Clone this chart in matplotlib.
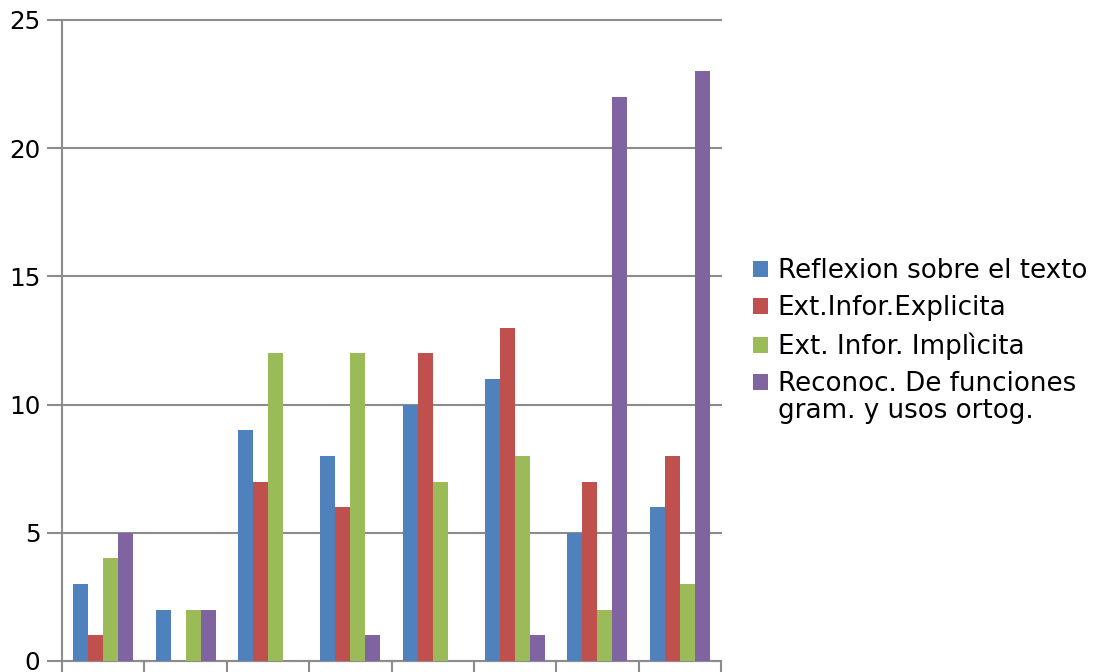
import matplotlib
matplotlib.use("Agg")
import matplotlib.pyplot as plt
import numpy as np

series_names = [
    "Reflexion sobre el texto",
    "Ext.Infor.Explicita",
    "Ext. Infor. Implìcita",
    "Reconoc. De funciones",
]
label_extra = "gram. y usos ortog."
reflexion = [3, 2, 9, 8, 10, 11, 5, 6]
explicita = [1, 0, 7, 6, 12, 13, 7, 8]
implicita = [4, 2, 12, 12, 7, 8, 2, 3]
reconoc = [5, 2, 0, 1, 0, 1, 22, 23]
y_ticks = [0, 5, 10, 15, 20, 25]

colors = ["#4F81BD", "#C0504D", "#9BBB59", "#8064A2"]
grid_c = "#8C8C8C"
fs = 18.8

fig = plt.figure(figsize=(10.94, 6.72), dpi=100)
ax = fig.add_axes([62 / 1094, 11 / 672, 659 / 1094, 641 / 672])

x = np.arange(len(reflexion))
width = 0.182
for i, (vals, c, name) in enumerate(zip([reflexion, explicita, implicita, reconoc], colors, series_names)):
    ax.bar(x + (i - 1.5) * width, vals, width, color=c, label=name, zorder=3)

ax.set_xlim(-0.5, len(x) - 0.5)
ax.set_ylim(0, 25)
ax.set_yticks(y_ticks)
ax.set_xticks([])
ax.set_xticks(np.arange(-0.5, len(x)), minor=True)
ax.tick_params(axis="x", which="minor", length=11, width=1.5, color=grid_c, labelbottom=False)
ax.tick_params(axis="y", length=11, width=1.5, color=grid_c, labelsize=17.7, pad=4.5)
ax.grid(axis="y", color=grid_c, linewidth=1.5, zorder=0)
for gl in ax.get_ygridlines():
    gl.set_clip_on(False)
for side in ["top", "right"]:
    ax.spines[side].set_visible(False)
for side in ["left", "bottom"]:
    ax.spines[side].set_color(grid_c)
    ax.spines[side].set_linewidth(1.5)

leg = ax.legend(loc="upper left", bbox_to_anchor=(753 / 1094, 1 - 258 / 672), bbox_transform=fig.transFigure,
                frameon=False, fontsize=fs, handlelength=0.57, handleheight=0.57,
                handletextpad=0.38, labelspacing=0.43, borderaxespad=0, borderpad=0)

# second line of the last legend entry
fig.canvas.draw()
bb = leg.get_texts()[-1].get_window_extent()
x0, y0 = fig.transFigure.inverted().transform((bb.x0, bb.y0))
fig.text(x0, y0 - 27 / 672, label_extra, fontsize=fs, ha="left", va="bottom")

fig.savefig("out.png", dpi=100)
